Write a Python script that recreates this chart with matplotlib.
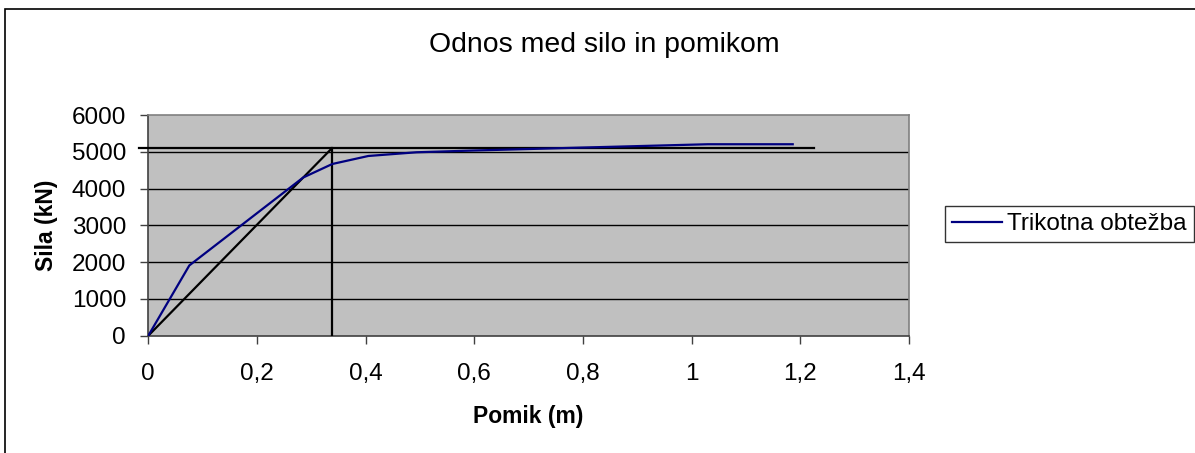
import matplotlib
matplotlib.use("Agg")
import matplotlib.pyplot as plt
from matplotlib.patches import Rectangle
from matplotlib.ticker import FuncFormatter

plt.rcParams['font.family'] = ['Liberation Sans', 'DejaVu Sans']

# Data
pomik = [0.0, 0.0755, 0.285, 0.3386, 0.405, 0.494, 0.6, 0.8, 1.03, 1.07, 1.16, 1.186]
sila = [0, 1910, 4300, 4668, 4886, 4987, 5035, 5115, 5205, 5205, 5205, 5205]

diag_x = [0.0, 0.3375]
diag_y = [0, 5090]
horiz_x = [-0.017, 1.225]
horiz_y = [5090, 5090]
vert_x = [0.3375, 0.3375]
vert_y = [0, 5090]

xticks = [0, 0.2, 0.4, 0.6, 0.8, 1.0, 1.2, 1.4]
yticks = [0, 1000, 2000, 3000, 4000, 5000, 6000]

W, H = 1195, 453
fig = plt.figure(figsize=(W / 100, H / 100), dpi=100)
fig.patch.set_facecolor('white')

# outer border of the chart area
fig.add_artist(Rectangle((5 / W, -0.05), 1.2, 1 - 9 / H + 0.05, transform=fig.transFigure,
                         fill=False, edgecolor='black', linewidth=1.2))

left, right, top, bottom = 148.3, 909, 115, 335.7
ax = fig.add_axes([left / W, 1 - bottom / H, (right - left) / W, (bottom - top) / H])
ax.set_facecolor('#C0C0C0')
ax.set_xlim(0, 1.4)
ax.set_ylim(0, 6000)
ax.set_xticks(xticks)
ax.set_yticks(yticks)

fmt = FuncFormatter(lambda v, p: ('%g' % v).replace('.', ','))
ax.xaxis.set_major_formatter(fmt)
ax.yaxis.set_major_formatter(FuncFormatter(lambda v, p: '%d' % v))

for y in yticks[1:-1]:
    ax.axhline(y, color='black', linewidth=1.0, zorder=1)

ax.plot(diag_x, diag_y, color='black', linewidth=1.6, zorder=3)
ax.plot(horiz_x, horiz_y, color='black', linewidth=1.6, zorder=3, clip_on=False)
ax.plot(vert_x, vert_y, color='black', linewidth=1.6, zorder=3)
line, = ax.plot(pomik, sila, color='#000080', linewidth=1.6, zorder=4, label='Trikotna obtežba')

for s in ['top', 'right']:
    ax.spines[s].set_color('#808080')
    ax.spines[s].set_linewidth(1.2)
for s in ['left', 'bottom']:
    ax.spines[s].set_color('#404040')
    ax.spines[s].set_linewidth(1.2)

ax.tick_params(axis='both', direction='out', length=6, width=1, color='#404040',
               labelsize=17.5, pad=5)
ax.tick_params(axis='x', pad=14)
ax.tick_params(axis='y', pad=10)

ax.set_xlabel('Pomik (m)', fontsize=16.5, fontweight='bold', labelpad=14)
ax.set_ylabel('Sila (kN)', fontsize=16.5, fontweight='bold', labelpad=10)

fig.text(604 / W, 1 - 45 / H, 'Odnos med silo in pomikom', fontsize=20.4,
         ha='center', va='center')

leg = fig.legend(handles=[line], loc='center left',
                 bbox_to_anchor=(945 / W, 1 - 224 / H), fontsize=17.5,
                 frameon=True, fancybox=False, edgecolor='black',
                 handlelength=2.05, handletextpad=0.2, borderpad=0.3,
                 borderaxespad=0)
leg.get_frame().set_linewidth(1.0)

fig.savefig('out.png', dpi=100)
